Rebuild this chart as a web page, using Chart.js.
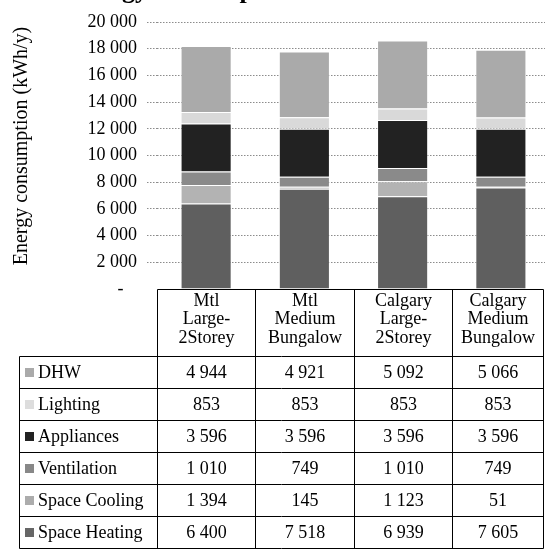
<!DOCTYPE html>
<html>
<head>
<meta charset="utf-8">
<script src="https://cdn.jsdelivr.net/npm/chart.js@4.4.1/dist/chart.umd.min.js"></script>
<style>
  html, body { margin: 0; padding: 0; background: #fff; overflow: hidden; }
  #wrap { position: relative; width: 550px; height: 549px; }
</style>
</head>
<body>
<div id="wrap"><canvas id="c"></canvas></div>
<script>
// Categories (each label split into the lines shown in the table header)
const categories = [
  ["Mtl", "Large-", "2Storey"],
  ["Mtl", "Medium", "Bungalow"],
  ["Calgary", "Large-", "2Storey"],
  ["Calgary", "Medium", "Bungalow"]
];

// Annual energy use by end use (kWh/y)
const spaceHeating = [6400, 7518, 6939, 7605];
const spaceCooling = [1394, 145, 1123, 51];
const ventilation  = [1010, 749, 1010, 749];
const appliances   = [3596, 3596, 3596, 3596];
const lighting     = [853, 853, 853, 853];
const dhw          = [4944, 4921, 5092, 5066];

// Series names, bottom of the stack first
const endUses = ["Space Heating", "Space Cooling", "Ventilation", "Appliances", "Lighting", "DHW"];

// Value axis ticks
const yMin = 0;
const yMax = 20000;
const yStep = 2000;

const titleText = "Energy consumption";
const yTitleText = "Energy consumption (kWh/y)";

const seriesValues = [spaceHeating, spaceCooling, ventilation, appliances, lighting, dhw];
const barColors    = ["#5f5f5f", "#b3b3b3", "#8a8a8a", "#222222", "#d9d9d9", "#aaaaaa"];
const keyColors    = ["#666666", "#acacac", "#888888", "#222222", "#dddddd", "#aaaaaa"];

const FONT = "'Liberation Serif', 'Times New Roman', serif";
const fmt = v => String(v).replace(/\B(?=(\d{3})+(?!\d))/g, " ");

// Data table under the plot, aligned to the category bands
const dataTable = {
  id: "dataTable",
  afterDraw(chart) {
    const { ctx, chartArea: a } = chart;
    const n = categories.length;
    const band = (a.right - a.left) / n;
    const right = Math.min(a.right, window.innerWidth) - 1.5;
    const headTop = Math.round(a.bottom) + 0.5;
    const headBottom = headTop + 67;
    const rowH = 32;
    const rows = endUses.length;
    const bottom = headBottom + rowH * rows;
    const keyLeft = 19.5;

    const xs = [];
    for (let i = 0; i < n; i++) xs.push(Math.round(a.left + i * band) + 0.5);
    xs.push(right);

    ctx.save();
    ctx.strokeStyle = "#000";
    ctx.lineWidth = 1;
    ctx.beginPath();
    // header box
    ctx.moveTo(xs[0], headTop); ctx.lineTo(right, headTop);
    xs.forEach(x => { ctx.moveTo(x, headTop); ctx.lineTo(x, bottom); });
    // key column and row separators
    for (let r = 0; r <= rows; r++) {
      const y = headBottom + r * rowH;
      ctx.moveTo(keyLeft, y); ctx.lineTo(right, y);
    }
    ctx.moveTo(keyLeft, headBottom); ctx.lineTo(keyLeft, bottom);
    ctx.stroke();

    ctx.fillStyle = "#000";
    ctx.font = "18px " + FONT;
    ctx.textAlign = "center";
    ctx.textBaseline = "middle";
    // header text
    categories.forEach((lines, i) => {
      const cx = (xs[i] + xs[i + 1]) / 2;
      lines.forEach((t, j) => ctx.fillText(t, cx, headTop + 11.5 + j * 18.5));
    });

    // rows, top of the stack first
    for (let r = 0; r < rows; r++) {
      const s = rows - 1 - r;
      const yc = headBottom + r * rowH + rowH / 2;
      ctx.fillStyle = keyColors[s];
      ctx.fillRect(25, Math.round(yc - 5), 9, 9);
      ctx.fillStyle = "#000";
      ctx.textAlign = "left";
      ctx.fillText(endUses[s], 38, yc + 1);
      ctx.textAlign = "center";
      seriesValues[s].forEach((v, i) => {
        ctx.fillText(fmt(v), (xs[i] + xs[i + 1]) / 2, yc + 1);
      });
    }

    // chart title (top edge of the page)
    ctx.font = "bold 26px " + FONT;
    ctx.textAlign = "left";
    ctx.textBaseline = "alphabetic";
    ctx.fillText(titleText, 67, -2);

    // value axis title
    ctx.font = "20px " + FONT;
    ctx.translate(22, 146);
    ctx.rotate(-Math.PI / 2);
    ctx.textAlign = "center";
    ctx.textBaseline = "middle";
    ctx.fillText(yTitleText, 0, 0);
    ctx.restore();
  }
};

const gridColor = c => (c.tick && c.tick.value === 0) ? "rgba(0,0,0,0)" : "#8c8c8c";

new Chart(document.getElementById("c"), {
  type: "bar",
  data: {
    labels: categories.map(l => l.join(" ")),
    datasets: endUses.map((name, s) => ({
      label: name,
      data: seriesValues[s],
      backgroundColor: barColors[s],
      borderColor: "rgba(255,255,255,0.55)",
      borderWidth: 1,
      barPercentage: 0.52,
      categoryPercentage: 1
    }))
  },
  options: {
    responsive: true,
    maintainAspectRatio: false,
    animation: false,
    events: [],
    layout: { padding: { top: 22, bottom: 260, left: 0, right: 0 } },
    plugins: { legend: { display: false }, tooltip: { enabled: false }, title: { display: false } },
    scales: {
      x: { stacked: true, display: false },
      y: {
        stacked: true,
        min: yMin,
        max: yMax,
        ticks: {
          stepSize: yStep,
          padding: 10,
          color: "#000",
          font: { family: FONT, size: 18 },
          callback: v => v === 0 ? "-   " : fmt(v)
        },
        grid: {
          color: gridColor,
          tickColor: gridColor,
          tickLength: 10,
          tickBorderDash: [1.5, 1.5],
          lineWidth: 1
        },
        border: { display: false, dash: [1.5, 1.5] },
        afterFit(s) { s.width = 157; }
      }
    }
  },
  plugins: [dataTable]
});
</script>
</body>
</html>
